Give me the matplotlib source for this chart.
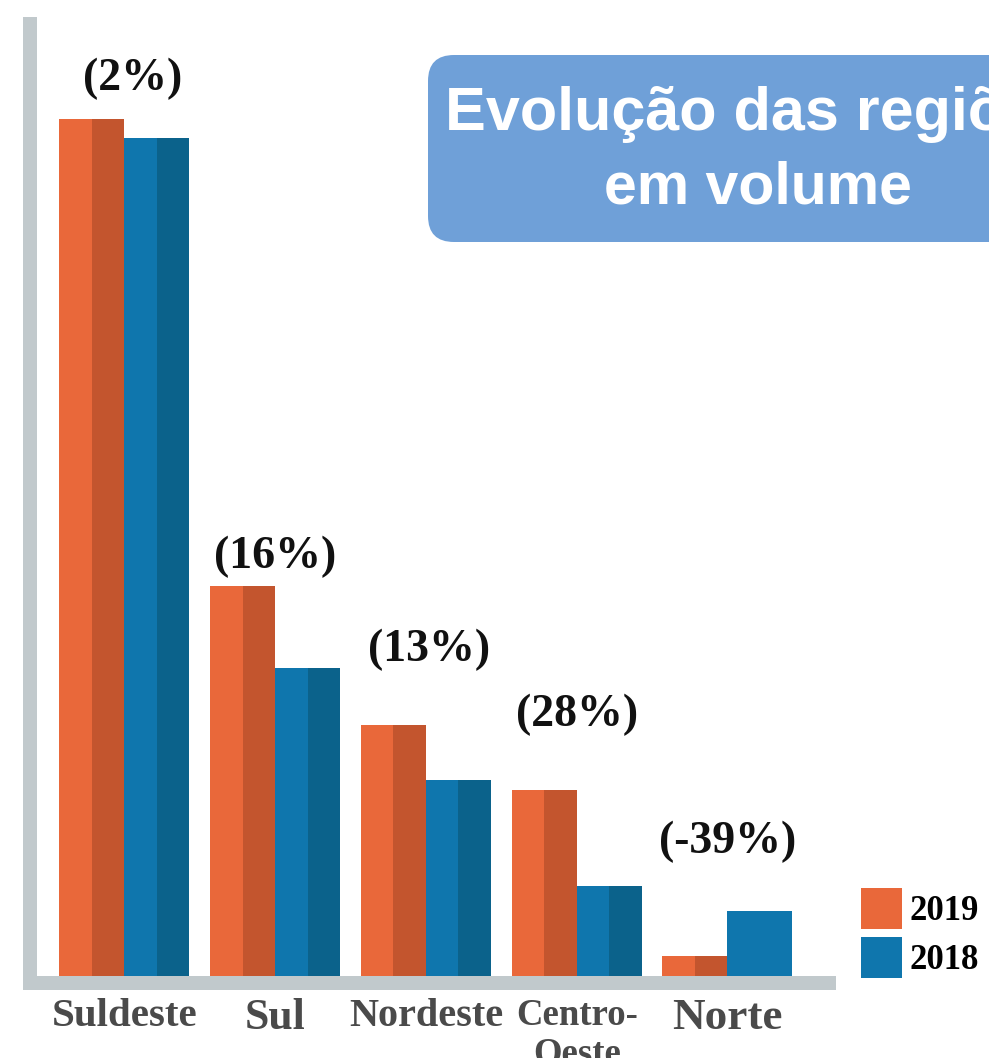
import matplotlib
matplotlib.use('Agg')
import matplotlib.pyplot as plt
from matplotlib.patches import Patch, Rectangle, FancyBboxPatch
from matplotlib.font_manager import FontProperties
import numpy as np

# ---- data ----
regions = ['Suldeste', 'Sul', 'Nordeste', 'Centro-\nOeste', 'Norte']
vol_2019 = [857, 390, 251, 186, 20]
vol_2018 = [838, 308, 196, 90, 65]
variation = ['(2%)', '(16%)', '(13%)', '(28%)', '(-39%)']
years = ['2019', '2018']
title_lines = ['Evolução das regiões', 'em volume']

# ---- style ----
orange_l, orange_d = '#e9683a', '#c3552e'
blue_l, blue_d = '#0f76ad', '#0b628b'
gray_axis = '#c1c9cc'
label_gray = '#4a4a4a'
box_blue = '#6fa0d8'
serif = 'Liberation Serif'
sans = 'Liberation Sans'

W, H = 989, 1058
fig = plt.figure(figsize=(W / 100, H / 100), dpi=100)
fig.patch.set_facecolor('white')

ax = fig.add_axes([37 / W, 1 - 976 / H, (836 - 37) / W, (976 - 17) / H])
x = np.arange(len(regions))
ax.set_xlim(-0.58, 4.72)
ax.set_ylim(0, 959)
w = 0.431
h = w / 2

# two-tone bars (left half light, right half dark)
dark_2018 = [blue_d, blue_d, blue_d, blue_d, blue_l]
ax.bar(x - 1.5 * h, vol_2019, width=h, color=orange_l, linewidth=0)
ax.bar(x - 0.5 * h, vol_2019, width=h, color=orange_d, linewidth=0)
ax.bar(x + 0.5 * h, vol_2018, width=h, color=blue_l, linewidth=0)
ax.bar(x + 1.5 * h, vol_2018, width=h, color=dark_2018, linewidth=0)

# variation labels
lab_off = [(6, 29), (0, 21), (2, 54), (0, 54), (0, 50)]
for i, txt in enumerate(variation):
    top = max(vol_2019[i], vol_2018[i])
    ax.annotate(txt, xy=(x[i], top), xytext=lab_off[i], textcoords='offset points',
                ha='center', va='center', fontsize=33, fontweight='bold',
                family=serif, color='#111111')

# category labels
ax.set_xticks(x, regions)
ax.tick_params(axis='x', length=0, pad=16)
sizes = [29.5, 31.5, 29, 26.5, 32.5]
for t, s in zip(ax.get_xticklabels(), sizes):
    t.set_fontsize(s)
    t.set_fontweight('bold')
    t.set_family(serif)
    t.set_color(label_gray)
    t.set_linespacing(1.15)
ax.set_yticks([])
for sp in ax.spines.values():
    sp.set_visible(False)
ax.patch.set_alpha(0)

# legend
fs_leg = 25
handles = [Patch(facecolor=orange_l, linewidth=0), Patch(facecolor=blue_l, linewidth=0)]
ax.legend(handles, years, loc='upper left', bbox_to_anchor=(861 / W, 1 - 888 / H),
          bbox_transform=fig.transFigure, frameon=False,
          prop=FontProperties(family=serif, weight='bold', size=fs_leg),
          handlelength=1.18, handleheight=1.44, handletextpad=0.23,
          labelspacing=0.22, borderpad=0, borderaxespad=0)

# overlay for decorative elements (pixel coordinates)
ov = fig.add_axes([0, 0, 1, 1])
ov.set_xlim(0, W)
ov.set_ylim(H, 0)
ov.axis('off')
ov.add_patch(Rectangle((23, 17), 14, 973, color=gray_axis, linewidth=0))
ov.add_patch(Rectangle((23, 976), 813, 14, color=gray_axis, linewidth=0))

ov.add_patch(FancyBboxPatch((428, 55), 700, 187, boxstyle='round,pad=0,rounding_size=26',
                            facecolor=box_blue, edgecolor='none'))
ov.text(445, 130, title_lines[0], ha='left', va='baseline', fontsize=44,
        fontweight='bold', family=sans, color='white')
ov.text(758, 203, title_lines[1], ha='center', va='baseline', fontsize=42.5,
        fontweight='bold', family=sans, color='white')

fig.savefig('out.png', dpi=100)
